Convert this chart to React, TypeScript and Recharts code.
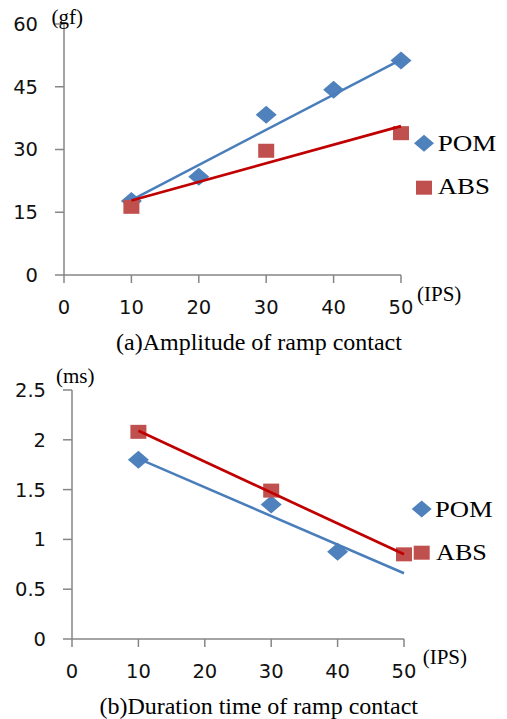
import React from 'react';
import { ScatterChart, Scatter, XAxis, YAxis, Legend, Label } from 'recharts';

// ---------- data ----------
const speedTicks = [0, 10, 20, 30, 40, 50];
const amplitudeTicks = [0, 15, 30, 45, 60];
const durationTicks = [0, 0.5, 1, 1.5, 2, 2.5];

const pomSpeedsA = [10, 20, 30, 40, 50];
const pomAmplitude = [17.7, 23.5, 38.3, 44.3, 51.3];
const absSpeedsA = [10, 30, 50];
const absAmplitude = [16.3, 29.7, 33.9];

const trendSpeeds = [10, 50];
const pomAmplitudeTrend = [17.9, 51.5];
const absAmplitudeTrend = [17.8, 35.6];

const pomSpeedsB = [10, 30, 40];
const pomDuration = [1.8, 1.35, 0.876];
const absSpeedsB = [10, 30, 50];
const absDuration = [2.08, 1.49, 0.85];
const pomDurationTrend = [1.81, 0.66];
const absDurationTrend = [2.09, 0.85];

const seriesNames = ['POM', 'ABS'];

// ---------- styles ----------
const POM_FILL = '#4F81BD';
const POM_LINE = '#4A7EBB';
const ABS_FILL = '#C0504D';
const ABS_LINE = '#C00000';
const AXIS = { stroke: '#868686', strokeWidth: 1.5 };
const TICK = { fill: '#111', fontSize: 19.5, fontFamily: "'DejaVu Sans', Verdana, sans-serif" };
const SERIF = "'Liberation Serif', 'Times New Roman', serif";

type Pt = { x: number; y: number };
const zip = (xs: number[], ys: number[]): Pt[] => xs.map((x, i) => ({ x, y: ys[i] }));

const diamondPts = (cx: number, cy: number, hw: number, hh: number) =>
  `${cx - hw},${cy} ${cx},${cy - hh} ${cx + hw},${cy} ${cx},${cy + hh}`;

const Diamond = (props: any) => {
  const { cx, cy } = props;
  if (cx == null || cy == null) return <g />;
  return <polygon points={diamondPts(cx, cy, 10.5, 9)} fill={POM_FILL} />;
};
const Square = (props: any) => {
  const { cx, cy } = props;
  if (cx == null || cy == null) return <g />;
  return <rect x={cx - 8} y={cy - 7} width={16} height={14} fill={ABS_FILL} />;
};
const NoDot = () => <g />;

interface LegendCfg {
  left: number;
  top: number;
  dia: [number, number];
  sq: [number, number];
  pomText: [number, number, number];
  absText: [number, number, number];
}

const makeLegend = (cfg: LegendCfg) => () => (
  <svg width={99} height={84} style={{ display: 'block', overflow: 'visible' }}>
    <polygon points={diamondPts(cfg.dia[0], cfg.dia[1], 10, 8.5)} fill={POM_FILL} />
    <text
      transform={`translate(${cfg.pomText[0]},${cfg.pomText[1]}) scale(${cfg.pomText[2]},1)`}
      fontFamily={SERIF}
      fontSize={24}
      fill="#000"
    >
      {seriesNames[0]}
    </text>
    <rect x={cfg.sq[0] - 8} y={cfg.sq[1] - 7} width={16} height={14} fill={ABS_FILL} />
    <text
      transform={`translate(${cfg.absText[0]},${cfg.absText[1]}) scale(${cfg.absText[2]},1)`}
      fontFamily={SERIF}
      fontSize={24}
      fill="#000"
    >
      {seriesNames[1]}
    </text>
  </svg>
);

interface PanelProps {
  height: number;
  margin: { top: number; right: number; bottom: number; left: number };
  yWidth: number;
  yDomain: [number, number];
  yTicks: number[];
  pom: Pt[];
  abs: Pt[];
  pomTrend: Pt[];
  absTrend: Pt[];
  yUnit: string;
  yUnitX: number;
  yUnitDy: number;
  ipsDx: number;
  ipsDy: number;
  caption: string;
  captionX: number;
  captionDy: number;
  legend: LegendCfg;
}

const Panel = (p: PanelProps) => (
  <ScatterChart width={507} height={p.height} margin={p.margin}>
    <XAxis
      type="number"
      dataKey="x"
      domain={[0, 50]}
      ticks={speedTicks}
      interval={0}
      axisLine={AXIS}
      tickLine={AXIS}
      tickSize={8}
      tickMargin={17}
      tick={TICK}
      height={30}
    >
      <Label
        content={(lp: any) => {
          const vb = lp.viewBox;
          return (
            <text x={vb.x + vb.width + p.ipsDx} y={vb.y + p.ipsDy} fontFamily={SERIF} fontSize={21} fill="#000">
              (IPS)
            </text>
          );
        }}
      />
      <Label
        content={(lp: any) => {
          const vb = lp.viewBox;
          return (
            <text x={p.captionX} y={vb.y + p.captionDy} textAnchor="middle" fontFamily={SERIF} fontSize={24} fill="#000">
              {p.caption}
            </text>
          );
        }}
      />
    </XAxis>
    <YAxis
      type="number"
      dataKey="y"
      domain={p.yDomain}
      ticks={p.yTicks}
      interval={0}
      width={p.yWidth}
      axisLine={AXIS}
      tickLine={AXIS}
      tickSize={9}
      tickMargin={17}
      tick={TICK}
    >
      <Label
        content={(lp: any) => {
          const vb = lp.viewBox;
          return (
            <text x={p.yUnitX} y={vb.y + p.yUnitDy} fontFamily={SERIF} fontSize={21} fill="#000">
              {p.yUnit}
            </text>
          );
        }}
      />
    </YAxis>
    <Scatter name={seriesNames[0]} data={p.pom} shape={Diamond} isAnimationActive={false} />
    <Scatter name={seriesNames[1]} data={p.abs} shape={Square} isAnimationActive={false} />
    <Scatter
      data={p.pomTrend}
      shape={NoDot}
      line={{ stroke: POM_LINE, strokeWidth: 2.5 }}
      legendType="none"
      isAnimationActive={false}
    />
    <Scatter
      data={p.absTrend}
      shape={NoDot}
      line={{ stroke: ABS_LINE, strokeWidth: 2.75 }}
      legendType="none"
      isAnimationActive={false}
    />
    <Legend
      layout="horizontal"
      verticalAlign="middle"
      align="center"
      wrapperStyle={{ left: p.legend.left, top: p.legend.top, width: 99, height: 84 }}
      content={makeLegend(p.legend)}
    />
  </ScatterChart>
);

export default function App() {
  return (
    <div style={{ position: 'absolute', left: 0, top: 0, width: 507, height: 719, background: '#fff' }}>
      <Panel
        height={360}
        margin={{ top: 24, right: 106, bottom: 55, left: 0 }}
        yWidth={64}
        yDomain={[0, 60]}
        yTicks={amplitudeTicks}
        pom={zip(pomSpeedsA, pomAmplitude)}
        abs={zip(absSpeedsA, absAmplitude)}
        pomTrend={zip(trendSpeeds, pomAmplitudeTrend)}
        absTrend={zip(trendSpeeds, absAmplitudeTrend)}
        yUnit="(gf)"
        yUnitX={51.5}
        yUnitDy={-0.5}
        ipsDx={16}
        ipsDy={25.5}
        caption="(a)Amplitude of ramp contact"
        captionX={259}
        captionDy={74.5}
        legend={{ left: 410, top: 126, dia: [14, 17.3], sq: [14, 61.7], pomText: [27.7, 24.7, 1.13], absText: [27.7, 68.3, 1.12] }}
      />
      <Panel
        height={359}
        margin={{ top: 30, right: 103, bottom: 50, left: 0 }}
        yWidth={72}
        yDomain={[0, 2.5]}
        yTicks={durationTicks}
        pom={zip(pomSpeedsB, pomDuration)}
        abs={zip(absSpeedsB, absDuration)}
        pomTrend={zip(trendSpeeds, pomDurationTrend)}
        absTrend={zip(trendSpeeds, absDurationTrend)}
        yUnit="(ms)"
        yUnitX={56}
        yUnitDy={-7}
        ipsDx={18.7}
        ipsDy={25.3}
        caption="(b)Duration time of ramp contact"
        captionX={258.7}
        captionDy={74.7}
        legend={{ left: 408, top: 126, dia: [13.7, 23], sq: [13.7, 66.7], pomText: [27, 30.7, 1.11], absText: [28, 74, 1.09] }}
      />
    </div>
  );
}
